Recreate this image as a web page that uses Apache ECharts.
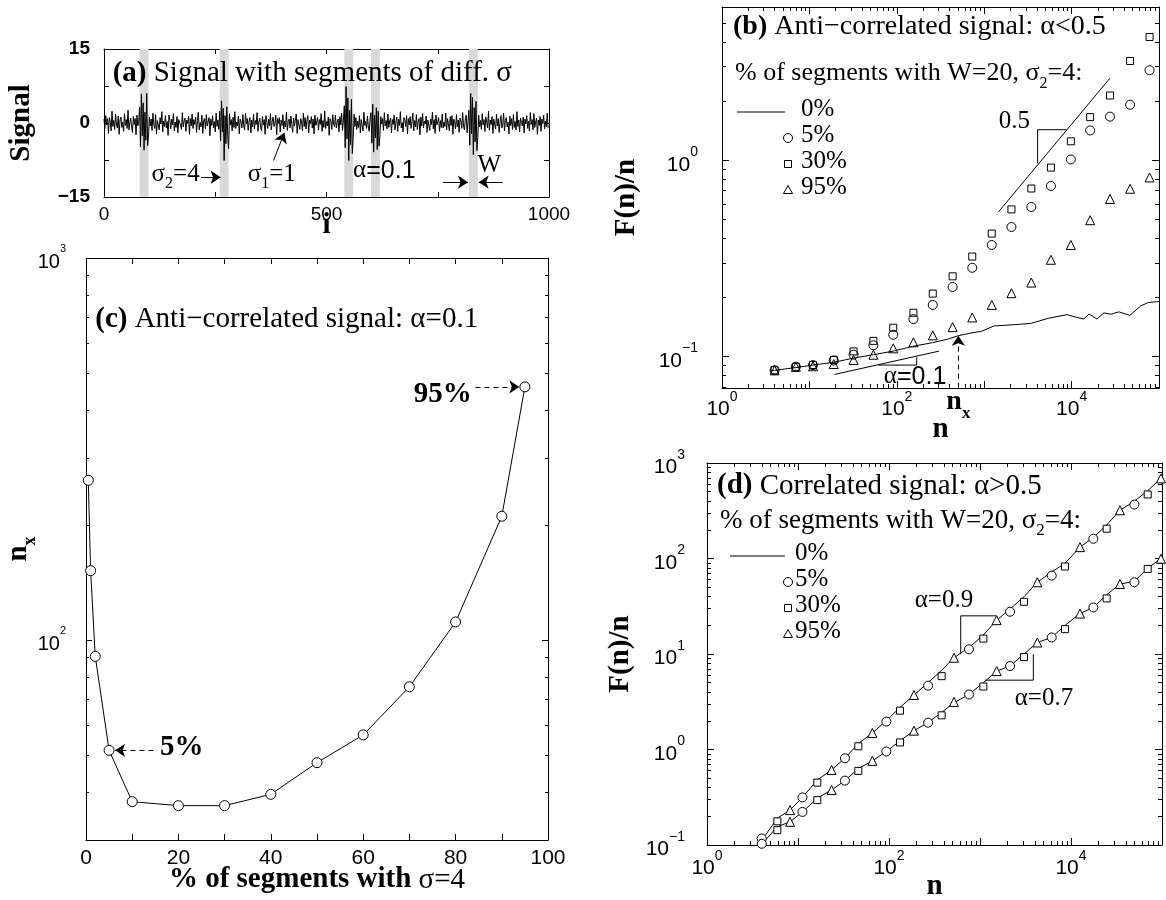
<!DOCTYPE html>
<html>
<head>
<meta charset="utf-8">
<title>DFA with segments of different standard deviation</title>
<script src="https://cdn.jsdelivr.net/npm/echarts@6.0.0/dist/echarts.min.js"></script>
<style>
html, body { margin: 0; padding: 0; background: #ffffff; }
#chart { width: 1166px; height: 900px; }
</style>
</head>
<body>
<div id="chart"></div>
<script>
// ====================== DATA ======================
// (a) signal, one value every `signalStep` samples of i
const signalStep = 2;
const signalValues = [
  0.8,-1.2,1.5,-0.4,0.9,-2.1,1.1,0.3,-1.6,2.4,
  -0.7,0.5,-1.3,1.8,-0.2,-1.0,1.4,-2.3,0.6,1.2,
  -0.9,0.2,-1.7,1.9,-0.5,0.7,-1.1,2.6,-1.4,0.1,
  1.0,-0.8,-1.9,1.3,-0.3,0.9,-2.4,1.6,-0.6,0.4,
  3.2,-4.8,5.9,-2.6,4.1,-5.5,2.2,-3.5,6.0,-4.6,
  -2.8,1.2,-0.6,0.8,-1.5,2.0,-0.3,-1.1,1.7,-2.2,
  0.5,0.9,-1.4,1.1,-0.2,2.3,-1.8,0.4,-0.7,1.5,
  -1.0,0.3,-2.5,1.6,0.6,-1.2,0.8,-0.4,1.9,-1.6,
  0.2,-0.9,1.3,-2.0,0.7,1.1,-0.5,-1.3,2.1,-0.8,
  0.4,1.0,-1.7,0.6,-0.1,1.4,-2.3,0.9,-0.6,1.8,
  -1.1,0.7,-0.3,1.2,-1.9,0.5,2.2,-1.4,0.1,-0.8,
  1.6,-2.1,0.4,0.9,-1.2,1.7,-0.6,-0.2,1.1,-2.6,
  0.8,-0.5,1.5,-1.0,0.3,-1.8,2.0,-0.7,0.6,-1.3,
  2.4,-3.6,4.5,-1.8,3.0,-7.6,1.5,-4.2,3.3,-2.5,
  -5.2,1.9,-0.4,0.7,-1.6,1.2,-0.9,2.3,-1.1,0.2,
  -0.6,1.4,-2.2,0.8,0.3,-1.0,1.7,-0.5,-1.4,2.0,
  -0.2,0.9,-1.5,0.4,1.1,-2.0,0.6,-0.8,1.8,-1.2,
  0.5,-0.3,2.1,-1.7,0.2,1.0,-0.9,-1.6,1.3,-0.4,
  0.7,-2.3,1.5,0.1,-1.1,0.8,-0.6,1.9,-1.4,0.3,
  1.2,-0.7,-0.2,1.6,-2.4,0.9,-0.1,1.1,-1.8,0.6,
  -0.5,1.7,-1.2,0.4,-0.8,2.2,-1.5,0.3,0.8,-1.0,
  1.4,-0.3,-1.9,1.0,-0.6,0.5,1.8,-2.1,0.7,-0.4,
  -1.3,0.9,0.2,-1.6,2.0,-0.7,1.1,-1.2,0.4,1.5,
  -2.0,0.6,-0.1,1.3,-1.0,0.8,-2.2,1.6,-0.5,0.2,
  1.1,-1.4,0.7,-0.3,1.9,-1.7,0.5,-0.9,2.4,-1.1,
  0.3,-0.6,1.2,-2.5,0.9,0.4,-1.3,1.7,-0.2,-0.8,
  1.6,-1.0,0.1,0.8,-1.8,1.3,-0.4,2.0,-1.5,0.6,
  3.5,-5.0,7.4,-3.2,5.1,-7.6,2.6,-4.4,4.8,-6.2,
  -3.1,1.8,-0.7,1.1,-1.3,0.4,-0.9,1.5,-2.0,0.7,
  0.9,-1.6,2.2,-0.5,0.3,-1.1,1.4,-0.8,-1.7,1.0,
  2.1,-4.1,3.8,-5.9,1.6,-3.0,3.1,-5.4,2.4,-4.7,
  -2.6,1.3,-0.2,0.9,-1.5,2.1,-0.6,0.5,-1.2,1.8,
  -0.9,0.4,1.0,-2.0,0.7,-0.3,1.6,-1.4,0.2,1.2,
  -1.7,0.8,-0.5,2.3,-1.0,0.1,-1.8,1.1,0.6,-0.7,
  1.5,-2.2,0.9,-0.4,1.3,-1.1,0.3,2.0,-1.6,0.5,
  -0.8,1.7,-1.3,0.2,0.9,-2.4,1.2,-0.6,1.9,-1.0,
  0.4,-0.2,1.4,-1.9,0.6,1.0,-1.5,0.8,-0.3,2.2,
  -1.2,0.7,-2.1,1.6,-0.4,0.3,1.1,-1.7,0.5,-0.9,
  1.8,-1.0,0.2,-0.7,2.0,-1.4,0.9,-0.1,-1.6,1.3,
  -0.5,1.5,-2.3,0.8,0.1,-1.2,1.7,-0.8,0.6,-1.9,
  1.0,0.4,-1.1,2.1,-0.6,-1.4,0.9,1.6,-2.0,0.3,
  2.6,-4.5,6.0,-2.2,5.2,-6.4,3.1,-3.8,4.4,-5.6,
  -2.9,1.6,-0.8,0.5,-1.3,1.9,-0.4,0.7,-1.7,1.2,
  0.2,-1.0,2.4,-1.5,0.6,-0.3,1.3,-2.1,0.8,0.4,
  -1.2,1.8,-0.6,0.9,-1.9,0.3,1.5,-1.0,-0.4,2.0,
  -1.6,0.5,1.1,-0.8,0.2,-2.2,1.4,-0.5,0.9,-1.3,
  1.7,-0.9,0.3,-1.4,2.3,-0.7,0.6,-1.8,1.0,0.1,
  -0.6,1.2,-2.0,0.8,-0.2,1.5,-1.1,0.4,-1.6,2.1,
  -0.3,0.7,-1.4,1.9,-0.9,0.2,1.0,-2.3,0.6,-0.5,
  1.3,-1.7,0.8,-0.1,1.6,-1.2,0.4,-0.8,2.0,-1.0
];
const sigma2Segments = [[80, 100], [260, 280], [540, 560], [600, 620], [820, 840]];
const rangeAX = [0, 1000];
const rangeAY = [-15, 15];
const ticksAX = [0, 500, 1000];
const ticksAY = [-15, 0, 15];

// (b) anti-correlated signal, F(n)/n
const nB   = [4, 7, 11, 19, 32, 54, 91, 155, 258, 435, 730, 1220, 2050, 3460, 5800, 9800, 16300, 27500, 46700, 78000];
const f5B  = [0.085, 0.0885, 0.0903, 0.0953, 0.102, 0.114, 0.129, 0.155, 0.183, 0.226, 0.283, 0.370, 0.457, 0.578, 0.740, 1.01, 1.42, 1.67, 1.92, 2.88];
const f30B = [0.085, 0.0885, 0.0903, 0.096, 0.106, 0.120, 0.140, 0.167, 0.209, 0.256, 0.323, 0.423, 0.562, 0.718, 0.918, 1.25, 1.66, 2.14, 3.21, 4.25];
const f95B = [0.0849, 0.0885, 0.0891, 0.0914, 0.096, 0.102, 0.110, 0.118, 0.128, 0.141, 0.158, 0.183, 0.210, 0.238, 0.311, 0.370, 0.495, 0.635, 0.716, 0.818];
const nLine0B = [3.6, 4, 7, 11, 19, 32, 54, 91, 155, 257, 389, 506, 724, 933, 1290, 2240, 3390, 5500, 8900, 11200, 13800, 15800, 19500, 23400, 28200, 34700, 46500, 61600, 75900, 100000];
const fLine0B = [0.0845, 0.0849, 0.0877, 0.0904, 0.0933, 0.098, 0.102, 0.1064, 0.1127, 0.1175, 0.1227, 0.1276, 0.1318, 0.1343, 0.1429, 0.1452, 0.1472, 0.1567, 0.1633, 0.1585, 0.1552, 0.1644, 0.1552, 0.1667, 0.1641, 0.1687, 0.1618, 0.1807, 0.1884, 0.1905];
const rangeBX = [1, 100000];
const rangeBY = [0.069, 6.05];
const ticksBX = [1, 100, 10000];
const ticksBY = [0.1, 1];

// (c) crossover n_x versus % of segments with sigma = 4
const pctC = [0.5, 1, 2, 5, 10, 20, 30, 40, 50, 60, 70, 80, 90, 95];
const nxC  = [262, 152, 90.7, 51.5, 37.8, 36.9, 36.9, 39.5, 47.8, 56.5, 75.5, 111.6, 211, 460];
const rangeCX = [0, 100];
const rangeCY = [30, 1000];
const ticksCX = [0, 20, 40, 60, 80, 100];
const ticksCY = [100, 1000];

// (d) correlated signals (upper: alpha=0.9, lower: alpha=0.7)
const nD5  = [4, 11.2, 32.8, 93.5, 269, 757, 2140, 6140, 17600, 49700];
const nD30 = [5.93, 16.3, 46.0, 132, 379, 1089, 3048, 8590, 24660, 69660];
const nD95 = [8.17, 23.4, 65.6, 188, 518, 1524, 4266, 12560, 34510, 97500];
const fD5Upper  = [0.117, 0.315, 0.809, 1.96, 4.66, 11.2, 27.7, 66.2, 161, 367];
const fD30Upper = [0.177, 0.450, 1.08, 2.55, 5.86, 14.5, 35.2, 82.4, 205, 468];
const fD95Upper = [0.232, 0.611, 1.49, 3.72, 9.14, 22.6, 56.4, 131.5, 320, 690];
const fD5Lower  = [0.103, 0.222, 0.472, 0.953, 1.91, 3.77, 7.48, 14.9, 30.7, 56.4];
const fD30Lower = [0.143, 0.295, 0.597, 1.186, 2.28, 4.57, 9.29, 18.2, 38.2, 77.8];
const fD95Lower = [0.175, 0.377, 0.760, 1.574, 3.15, 6.62, 13.2, 26.5, 54.1, 99.4];
const nLineD = [4, 5.93, 8.17, 11.2, 16.3, 23.4, 32.8, 46.0, 65.6, 93.5, 132, 188, 269, 379, 518, 757, 1089, 1524, 2140, 3048, 4266, 6140, 8590, 12560, 17600, 24660, 34510, 49700, 69660, 97500];
const fLineDUpper = [0.112, 0.191, 0.232, 0.316, 0.479, 0.611, 0.813, 1.15, 1.49, 2.00, 2.75, 3.72, 5.01, 6.76, 9.14, 11.7, 15.8, 22.6, 29.5, 39.8, 56.4, 72.4, 89.1, 131.5, 166, 224, 320, 398, 513, 690];
const fLineDLower = [0.102, 0.155, 0.175, 0.222, 0.309, 0.377, 0.472, 0.631, 0.760, 0.953, 1.23, 1.574, 1.91, 2.45, 3.09, 3.77, 5.01, 6.62, 7.48, 10.0, 13.2, 14.9, 19.95, 26.5, 30.7, 41.7, 54.1, 57.5, 79.4, 99.4];
const rangeDX = [1, 100000];
const rangeDY = [0.1, 1000];
const ticksDX = [1, 100, 10000];
const ticksDY = [0.1, 1, 10, 100, 1000];

// ====================== STYLE / LAYOUT ======================
const SERIF = '"Liberation Serif","Times New Roman",Times,serif';
const SANS = '"Liberation Sans",Arial,Helvetica,sans-serif';
const BLACK = '#000000';
const GRIDS = [
  { left: 104, top: 49, width: 445, height: 148 },   // (a)
  { left: 722, top: 7, width: 437, height: 381 },    // (b)
  { left: 86, top: 258, width: 462, height: 582 },   // (c)
  { left: 707, top: 463, width: 455, height: 382 }   // (d)
];

const L = Math.log10;
const minus = v => (v < 0 ? '\u2212' + (-v) : String(v));
const expLabel = v => '{b|10}{s|' + minus(Math.round(v)) + '}';

function logMajors(lo, hi) {
  const out = [];
  for (let e = Math.ceil(lo - 1e-9); e <= Math.floor(hi + 1e-9); e++) out.push(e);
  return out;
}
function logMinors(lo, hi) {
  const out = [];
  for (let e = Math.floor(lo) - 1; e <= Math.ceil(hi); e++) {
    for (let k = 2; k <= 9; k++) {
      const v = e + L(k);
      if (v > lo + 1e-9 && v < hi - 1e-9) out.push(v);
    }
  }
  return out;
}
function richExp(base, sup) {
  return {
    b: { fontSize: base, fontFamily: SANS, color: BLACK, lineHeight: Math.round(base * 1.45), verticalAlign: 'bottom' },
    s: { fontSize: sup, fontFamily: SANS, color: BLACK, lineHeight: sup, verticalAlign: 'top' }
  };
}

const xAxis = [], yAxis = [];
function addAxes(list, dim, gridIndex, o) {
  const sides = dim === 'x' ? ['bottom', 'top'] : ['left', 'right'];
  const base = { type: 'value', gridIndex, min: o.min, max: o.max, splitLine: { show: false }, splitArea: { show: false }, silent: true };
  const line = { show: true, onZero: false, lineStyle: { color: BLACK, width: 1 } };
  const noLine = { show: false, onZero: false };
  const tick = (vals, len) => (vals && vals.length)
    ? { show: true, inside: true, length: len, customValues: vals, lineStyle: { color: BLACK, width: 1 } }
    : { show: false };
  list.push(Object.assign({}, base, { position: sides[0], axisLine: line, axisTick: tick(o.majors, o.majLen), axisLabel: o.label }));
  list.push(Object.assign({}, base, { position: sides[0], axisLine: noLine, axisTick: tick(o.minors, o.minLen), axisLabel: { show: false } }));
  list.push(Object.assign({}, base, { position: sides[1], axisLine: line, axisTick: tick(o.majors, o.majLen), axisLabel: { show: false } }));
  list.push(Object.assign({}, base, { position: sides[1], axisLine: noLine, axisTick: tick(o.minors, o.minLen), axisLabel: { show: false } }));
}

// (a)
addAxes(xAxis, 'x', 0, { min: rangeAX[0], max: rangeAX[1], majors: [0, 250, 500, 750, 1000], majLen: 5,
  label: { show: true, customValues: ticksAX, formatter: v => String(v), color: BLACK, fontFamily: SANS, fontSize: 19, margin: 8, showMinLabel: true, showMaxLabel: true } });
addAxes(yAxis, 'y', 0, { min: rangeAY[0], max: rangeAY[1], majors: [-15, -7.5, 0, 7.5, 15], majLen: 5,
  label: { show: true, customValues: ticksAY, formatter: v => minus(v), color: BLACK, fontFamily: SANS, fontWeight: 'bold', fontSize: 19, margin: 14, showMinLabel: true, showMaxLabel: true } });
// (b)
const bx = [L(rangeBX[0]), L(rangeBX[1])], by = [L(rangeBY[0]), L(rangeBY[1])];
addAxes(xAxis, 'x', 1, { min: bx[0], max: bx[1], majors: logMajors(bx[0], bx[1]), minors: logMinors(bx[0], bx[1]), majLen: 7, minLen: 4,
  label: { show: true, customValues: ticksBX.map(L), formatter: expLabel, rich: richExp(21, 14), margin: 2, showMinLabel: true, showMaxLabel: true } });
addAxes(yAxis, 'y', 1, { min: by[0], max: by[1], majors: logMajors(by[0], by[1]), minors: logMinors(by[0], by[1]), majLen: 7, minLen: 4,
  label: { show: true, customValues: ticksBY.map(L), formatter: expLabel, rich: richExp(21, 14), margin: 24, showMinLabel: true, showMaxLabel: true } });
// (c)
const cy = [L(rangeCY[0]), L(rangeCY[1])];
addAxes(xAxis, 'x', 2, { min: rangeCX[0], max: rangeCX[1], majors: [0, 10, 20, 30, 40, 50, 60, 70, 80, 90, 100], majLen: 6,
  label: { show: true, customValues: ticksCX, formatter: v => String(v), color: BLACK, fontFamily: SANS, fontSize: 21, margin: 8, showMinLabel: true, showMaxLabel: true } });
addAxes(yAxis, 'y', 2, { min: cy[0], max: cy[1], majors: logMajors(cy[0], cy[1]), minors: logMinors(cy[0], cy[1]), majLen: 6, minLen: 3,
  label: { show: true, customValues: ticksCY.map(L), formatter: expLabel, rich: richExp(20, 11), margin: 20, showMinLabel: true, showMaxLabel: true } });
// (d)
const dx = [L(rangeDX[0]), L(rangeDX[1])], dy = [L(rangeDY[0]), L(rangeDY[1])];
addAxes(xAxis, 'x', 3, { min: dx[0], max: dx[1], majors: logMajors(dx[0], dx[1]), minors: logMinors(dx[0], dx[1]), majLen: 7, minLen: 4,
  label: { show: true, customValues: ticksDX.map(L), formatter: expLabel, rich: richExp(21, 14), margin: 4, showMinLabel: true, showMaxLabel: true } });
addAxes(yAxis, 'y', 3, { min: dy[0], max: dy[1], majors: logMajors(dy[0], dy[1]), minors: logMinors(dy[0], dy[1]), majLen: 7, minLen: 4,
  label: { show: true, customValues: ticksDY.map(L), formatter: expLabel, rich: richExp(21, 14), margin: 22, showMinLabel: true, showMaxLabel: true } });

// ====================== SERIES ======================
const logPairs = (xs, ys) => xs.map((x, i) => [L(x), L(ys[i])]);
function lineS(name, g, data, extra) {
  return Object.assign({ type: 'line', name, xAxisIndex: 4 * g, yAxisIndex: 4 * g, data, symbol: 'none', showSymbol: false,
    lineStyle: { color: BLACK, width: 1 }, silent: true, z: 2, emphasis: { disabled: true }, clip: true }, extra || {});
}
function scatterS(name, g, data, symbol, size, fill) {
  return { type: 'scatter', name, xAxisIndex: 4 * g, yAxisIndex: 4 * g, data, symbol, symbolSize: size,
    itemStyle: { color: fill, borderColor: BLACK, borderWidth: 1, opacity: 1 }, silent: true, z: 3, emphasis: { disabled: true } };
}
function arrowS(g, segs, dashed) {
  return { type: 'line', xAxisIndex: 4 * g, yAxisIndex: 4 * g, data: [], silent: true, z: 5,
    markLine: { silent: true, animation: false, symbol: ['none', 'arrow'], symbolSize: 10, label: { show: false },
      lineStyle: { color: BLACK, width: 1, type: dashed ? [5, 4] : 'solid' }, emphasis: { disabled: true },
      data: segs.map(s => [{ coord: s[0] }, { coord: s[1] }]) } };
}

const series = [];
// (a)
series.push(lineS('signal', 0, signalValues.map((v, k) => [k * signalStep, v]), {
  markArea: { silent: true, itemStyle: { color: '#d9d9d9' }, emphasis: { disabled: true },
    data: sigma2Segments.map(s => [{ xAxis: s[0] }, { xAxis: s[1] }]) } }));
series.push(arrowS(0, [
  [[218, -11], [262, -11]],
  [[381, -7.6], [405, -2.0]],
  [[762, -12], [818, -12]],
  [[896, -12], [842, -12]]
], false));
// (b)
series.push(lineS('0%', 1, logPairs(nLine0B, fLine0B)));
series.push(scatterS('5%', 1, logPairs(nB, f5B), 'circle', 9, 'rgba(0,0,0,0)'));
series.push(scatterS('30%', 1, logPairs(nB, f30B), 'rect', 7, 'rgba(0,0,0,0)'));
series.push(scatterS('95%', 1, logPairs(nB, f95B), 'triangle', 9, 'rgba(0,0,0,0)'));
series.push(lineS('slope 0.5', 1, logPairs([1449, 27400], [0.544, 2.62])));
series.push(lineS('slope 0.5 box', 1, logPairs([4085, 4085, 8770], [0.964, 1.432, 1.432])));
series.push(lineS('slope 0.1', 1, logPairs([19.4, 304], [0.0809, 0.1064])));
series.push(lineS('slope 0.1 box', 1, logPairs([61.7, 169, 169], [0.0903, 0.0903, 0.0991])));
series.push(arrowS(1, [[[L(506), by[0] + 0.002], [L(506), L(0.1276)]]], true));
// (c)
series.push(lineS('n_x', 2, pctC.map((p, i) => [p, L(nxC[i])]), {
  symbol: 'circle', showSymbol: true, symbolSize: 10,
  itemStyle: { color: '#ffffff', borderColor: BLACK, borderWidth: 1 } }));
series.push(arrowS(2, [
  [[84.3, L(460)], [93.8, L(460)]],
  [[14.6, L(51.5)], [6.3, L(51.5)]]
], true));
// (d)
series.push(lineS('0% upper', 3, logPairs(nLineD, fLineDUpper)));
series.push(lineS('0% lower', 3, logPairs(nLineD, fLineDLower)));
series.push(scatterS('5%', 3, logPairs(nD5, fD5Upper).concat(logPairs(nD5, fD5Lower)), 'circle', 9, '#ffffff'));
series.push(scatterS('30%', 3, logPairs(nD30, fD30Upper).concat(logPairs(nD30, fD30Lower)), 'rect', 7, '#ffffff'));
series.push(scatterS('95%', 3, logPairs(nD95, fD95Upper).concat(logPairs(nD95, fD95Lower)), 'triangle', 9, '#ffffff'));
series.push(lineS('alpha 0.9 box', 3, logPairs([1500, 614, 614], [25.1, 25.1, 9.93])));
series.push(lineS('alpha 0.7 box', 3, logPairs([1135, 3855, 3855], [5.32, 5.32, 9.93])));

const chart = echarts.init(document.getElementById('chart'), null, { renderer: 'canvas' });
chart.setOption({
  animation: false,
  backgroundColor: '#ffffff',
  textStyle: { fontFamily: SANS, color: BLACK },
  grid: GRIDS.map(g => Object.assign({ show: false }, g)),
  xAxis, yAxis, series
});

// ====================== ANNOTATIONS ======================
const px = (g, x, y) => chart.convertToPixel({ xAxisIndex: 4 * g, yAxisIndex: 4 * g }, [x, y]);
const els = [];
function rich(size, subSize, family, weight) {
  const w = weight || 'normal';
  const lh = Math.round(size * 1.2);
  return {
    r: { fontSize: size, fontFamily: family, fontWeight: w, fill: BLACK, lineHeight: lh, verticalAlign: 'top' },
    b: { fontSize: size, fontFamily: family, fontWeight: 'bold', fill: BLACK, lineHeight: lh, verticalAlign: 'top' },
    n: { fontSize: size, fontFamily: family, fontWeight: 'normal', fill: BLACK, lineHeight: lh, verticalAlign: 'top' },
    g: { fontSize: size, fontFamily: SERIF, fontWeight: w, fill: BLACK, lineHeight: lh, verticalAlign: 'top' },
    s: { fontSize: size, fontFamily: SANS, fontWeight: w, fill: BLACK, lineHeight: lh, verticalAlign: 'top' },
    sub: { fontSize: subSize, fontFamily: family, fontWeight: w, fill: BLACK, lineHeight: subSize, verticalAlign: 'bottom' }
  };
}
function text(x, y, str, size, opts) {
  opts = opts || {};
  const family = opts.family || SERIF;
  els.push({
    type: 'text', x, y, z: 100, silent: true, rotation: opts.rot || 0,
    style: {
      text: str, rich: rich(size, opts.sub || Math.round(size * 0.62), family, opts.weight),
      fontSize: size, fontFamily: family, fontWeight: opts.weight || 'normal', fill: BLACK,
      align: opts.align || 'left', verticalAlign: 'middle', textAlign: opts.align || 'left', textVerticalAlign: 'middle'
    }
  });
}
function legend(x0, rows, lineW, textDx) {
  els.push({ type: 'line', z: 100, silent: true, shape: { x1: x0, y1: rows[0], x2: x0 + lineW, y2: rows[0] }, style: { stroke: BLACK, lineWidth: 1 } });
  const mx = x0 + lineW + 3;
  els.push({ type: 'circle', z: 100, silent: true, shape: { cx: mx, cy: rows[1], r: 4.5 }, style: { fill: 'none', stroke: BLACK, lineWidth: 1 } });
  els.push({ type: 'rect', z: 100, silent: true, shape: { x: mx - 3.5, y: rows[2] - 3.5, width: 7, height: 7 }, style: { fill: 'none', stroke: BLACK, lineWidth: 1 } });
  els.push({ type: 'polygon', z: 100, silent: true, shape: { points: [[mx, rows[3] - 4.5], [mx + 4.5, rows[3] + 3.5], [mx - 4.5, rows[3] + 3.5]] }, style: { fill: 'none', stroke: BLACK, lineWidth: 1 } });
  ['0%', '5%', '30%', '95%'].forEach((t, i) => text(x0 + textDx, rows[i], '{r|' + t + '}', 25));
}

// (a)
const gA = GRIDS[0];
let p = px(0, 19.5, 9.5);
text(p[0], p[1], '{b|(a)}{r| Signal with segments of diff. \u03c3}', 29);
p = px(0, 107, -11); text(p[0], p[1], '{r|\u03c3}{sub|2}{r|=4}', 25);
p = px(0, 323, -11); text(p[0], p[1], '{r|\u03c3}{sub|1}{r|=1}', 25);
p = px(0, 630, -10.2); text(p[0], p[1], '{g|\u03b1}{s|=0.1}', 25, { align: 'center' });
p = px(0, 866, -9.1); text(p[0], p[1], '{r|W}', 25, { align: 'center' });
text(gA.left - 79, gA.top + gA.height / 2, '{r|Signal}', 29, { weight: 'bold', align: 'center', rot: Math.PI / 2 });
text(gA.left + gA.width / 2, gA.top + gA.height + 32, '{r|i}', 29, { weight: 'bold', align: 'center' });

// (b)
const gB = GRIDS[1];
text(gB.left + 11, gB.top + 23, '{b|(b)}{r| Anti\u2212correlated signal: \u03b1<0.5}', 28);
text(gB.left + 13, gB.top + 69, '{r|% of segments with W=20, \u03c3}{sub|2}{r|=4:}', 26);
legend(gB.left + 15, [gB.top + 105, gB.top + 131, gB.top + 157, gB.top + 183], 48, 64);
p = px(1, 3.523, 0.186); text(p[0], p[1], '{r|0.5}', 25, { align: 'right' });
p = px(1, 2.209, -1.117); text(p[0], p[1], '{g|\u03b1}{s|=0.1}', 25, { align: 'center' });
p = px(1, L(506), by[0]); text(p[0], p[1] + 17, '{b|n}{sub|x}', 28, { weight: 'bold', align: 'center' });
text(gB.left - 92, gB.top + gB.height / 2, '{r|F(n)/n}', 29, { weight: 'bold', align: 'center', rot: Math.PI / 2 });
text(gB.left + gB.width / 2, gB.top + gB.height + 45, '{r|n}', 29, { weight: 'bold', align: 'center' });

// (c)
const gC = GRIDS[2];
p = px(2, 2.0, 2.832); text(p[0], p[1], '{b|(c)}{r| Anti\u2212correlated signal: \u03b1=0.1}', 29);
p = px(2, 83.5, 2.634); text(p[0], p[1], '{b|95%}', 29, { weight: 'bold', align: 'right' });
p = px(2, 16, 1.711); text(p[0], p[1], '{b|5%}', 29, { weight: 'bold' });
text(gC.left - 64, gC.top + gC.height / 2, '{r|n}{sub|x}', 29, { weight: 'bold', align: 'center', rot: Math.PI / 2 });
text(gC.left + gC.width / 2, gC.top + gC.height + 43, '{r|% of segments with }{n|\u03c3=4}', 29, { weight: 'bold', align: 'center' });

// (d)
const gD = GRIDS[3];
text(gD.left + 10, gD.top + 26, '{b|(d)}{r| Correlated signal: \u03b1>0.5}', 29);
text(gD.left + 13, gD.top + 60, '{r|% of segments with W=20, \u03c3}{sub|2}{r|=4:}', 27);
legend(gD.left + 23, [gD.top + 93, gD.top + 119, gD.top + 145, gD.top + 171], 55, 65);
p = px(3, 2.604, 1.537); text(p[0], p[1], '{r|\u03b1=0.9}', 25, { align: 'center' });
p = px(3, 3.703, 0.505); text(p[0], p[1], '{r|\u03b1=0.7}', 25, { align: 'center' });
text(gD.left - 83, gD.top + gD.height / 2, '{r|F(n)/n}', 29, { weight: 'bold', align: 'center', rot: Math.PI / 2 });
text(gD.left + gD.width / 2, gD.top + gD.height + 45, '{r|n}', 29, { weight: 'bold', align: 'center' });

chart.setOption({ graphic: { elements: els } });
</script>
</body>
</html>
